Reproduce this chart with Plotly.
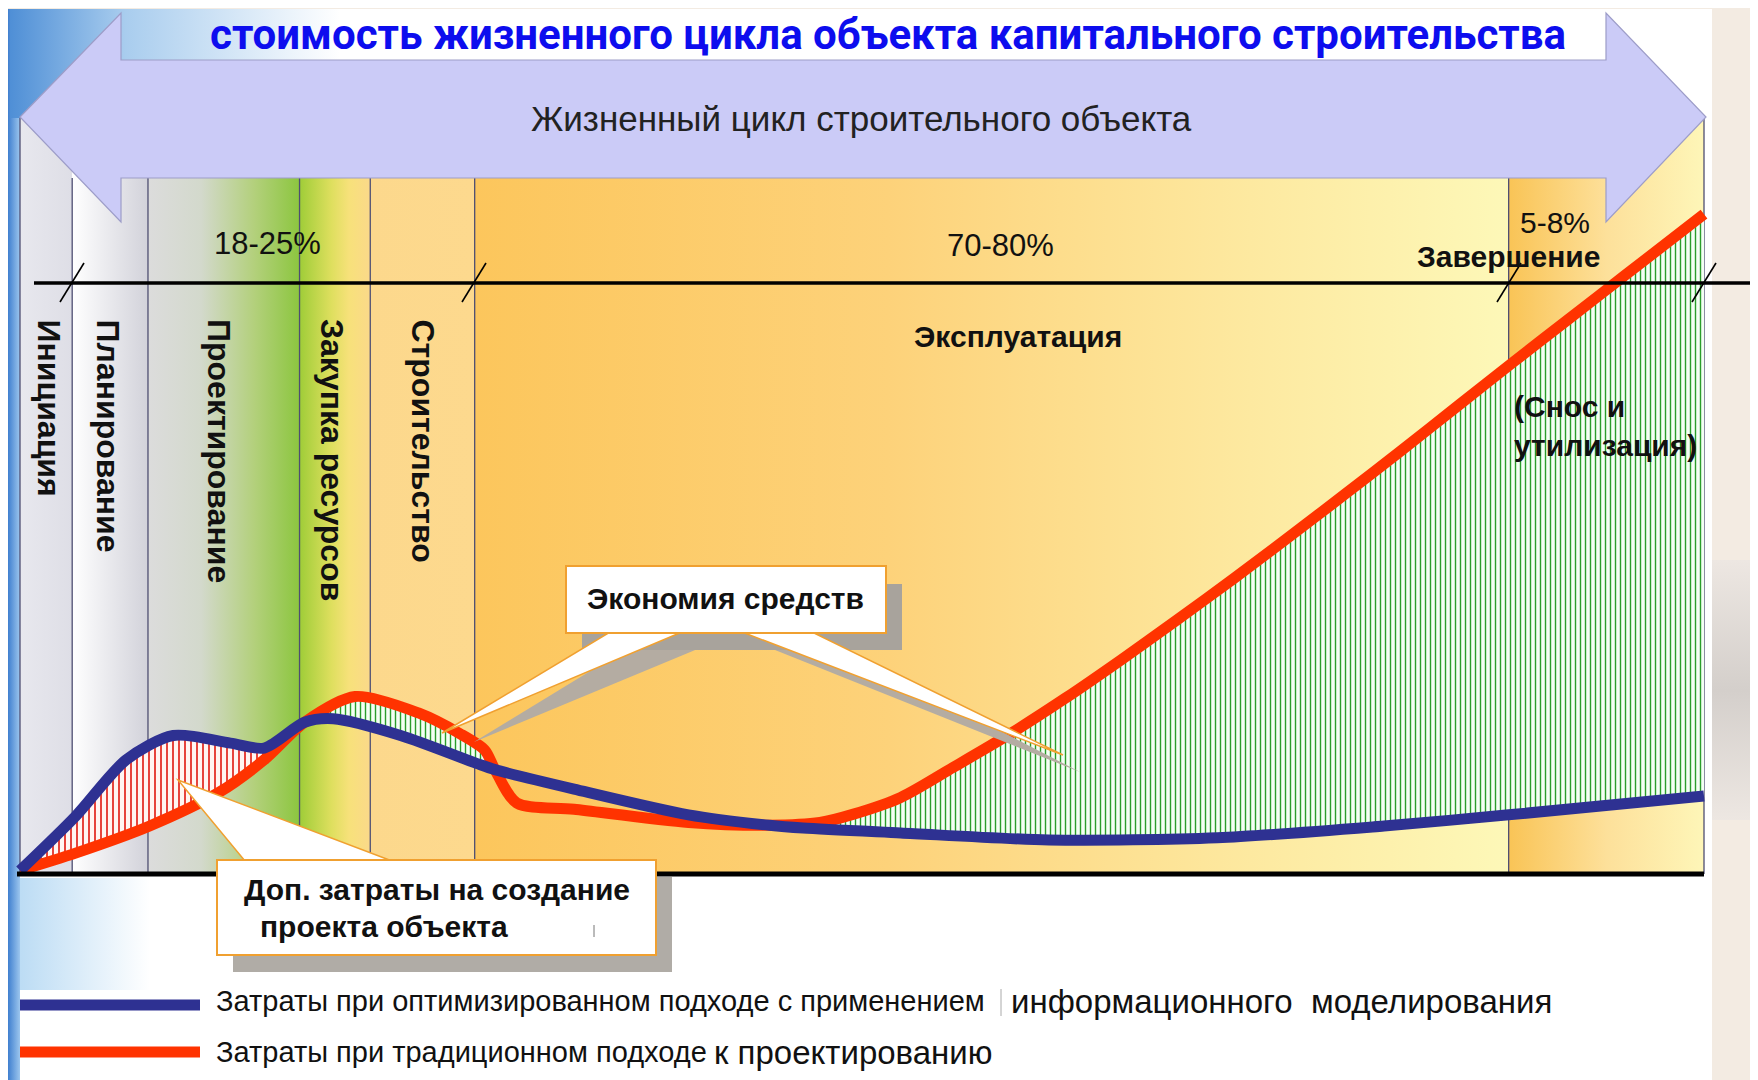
import plotly.graph_objects as go

# ---------------- data ----------------
title_text = "стоимость жизненного цикла объекта капитального строительства"
arrow_text = "Жизненный цикл строительного объекта"
phase_names = ["Инициация", "Планирование", "Проектирование", "Закупка ресурсов",
               "Строительство", "Эксплуатация", "Завершение"]
phase_bounds = [0, 3.1, 7.6, 16.6, 20.8, 27.0, 88.4, 100]
share_labels = ["18-25%", "70-80%", "5-8%"]

# traditional approach (red)
red_x = [0, 3.3, 7.7, 11.8, 14.5, 16.9, 19.9, 23.7, 26.1, 27.6, 28.2, 29.5, 32.9, 39.7,
         44.5, 47.5, 49.5, 52.3, 55.4, 58.7, 62.1, 65.4, 68.7, 72.1, 75.4, 78.7, 82.0,
         85.4, 88.7, 92.0, 95.3, 100]
red_y = [0.5, 3.0, 6.9, 11.7, 16.4, 21.8, 25.5, 23.1, 20.2, 17.8, 15.0, 10.2, 9.3, 7.4,
         7.0, 7.4, 8.6, 11.0, 15.3, 20.0, 25.3, 30.8, 36.5, 42.5, 48.5, 54.6, 60.8,
         67.3, 73.6, 79.8, 86.0, 94.8]
# optimized approach with BIM (blue)
blue_x = [0, 3.3, 6.3, 9.1, 12.5, 14.5, 16.9, 18.6, 22.6, 27.1, 28.2, 32.9, 39.7, 44.5,
          46.5, 52.3, 61.1, 71.1, 81.0, 88.4, 100]
blue_y = [0.5, 8.3, 16.4, 19.9, 18.8, 18.1, 21.8, 22.3, 19.9, 15.9, 15.0, 12.2, 8.5, 7.0,
          6.6, 5.9, 4.9, 5.2, 6.9, 8.5, 11.2]

extra_range = (0, 16.9)                       # blue above red
saving_ranges = [(16.9, 28.2), (44.5, 100)]   # red above blue

legend_blue = ["Затраты при оптимизированном подходе с применением", "информационного  моделирования"]
legend_red = ["Затраты при традиционном подходе", "к проектированию"]
callout_saving = "Экономия средств"
callout_extra = ["Доп. затраты на создание", "проекта объекта"]

# ---------------- layout helpers ----------------
W, H = 1758, 1080
OFF = 8                  # page body margin
FW, FH = W - OFF, H - OFF
X0, XS = 20.0, 16.84     # screen px of x=0, px per unit
Y0, YS = 874.0, 6.96     # screen px of y=0, px per unit


def ux(px):
    return (px - X0) / XS


def vy(py):
    return (Y0 - py) / YS


def fx(px):
    return (px - OFF) / FW


def fy(py):
    return 1 - (py - OFF) / FH


ARIAL = "Liberation Sans, Arial, sans-serif"
TITLEF = "Roboto, Liberation Sans, sans-serif"

RED = "#ff3300"
BLUE = "#2e3192"
ORANGE = "#f0a030"

fig = go.Figure()


def grad_rect(x0, x1, y0, y1, scale, orient="horizontal"):
    """x/y in data units"""
    g = dict(type=orient, colorscale=scale)
    if orient == "horizontal":
        g.update(start=x0, stop=x1)
    else:
        g.update(start=y0, stop=y1)
    fig.add_trace(go.Scatter(x=[x0, x1, x1, x0, x0], y=[y0, y0, y1, y1, y0],
                             mode="lines", line=dict(width=0), fill="toself",
                             fillgradient=g, hoverinfo="skip", showlegend=False))


# background pieces
grad_rect(ux(8), ux(20), vy(1080), vy(9), [[0, "#3f7fcf"], [1, "#9cc6ee"]])
grad_rect(ux(10), ux(340), vy(118), vy(9), [[0, "#4f8fd6"], [0.35, "#a9cdee"], [1, "#ffffff"]])
grad_rect(ux(20), ux(150), vy(990), vy(878), [[0, "#bcdcf4"], [1, "#ffffff"]])
grad_rect(ux(1712), ux(1758), vy(820), vy(560), [[0, "#ede7e2"], [0.5, "#d4cfcb"], [1, "#ede7e2"]], "vertical")

# phase bands
band_scales = [
    [[0, "#e8e8ee"], [1, "#dedee6"]],
    [[0, "#ffffff"], [1, "#d2d2da"]],
    [[0, "#dcdcdc"], [0.35, "#d3d9cc"], [0.7, "#b3d07c"], [1, "#8cc63f"]],
    [[0, "#9fcd38"], [0.45, "#dedf5e"], [0.7, "#f7e17a"], [1, "#fbd98a"]],
    [[0, "#fcd88c"], [1, "#fdd98e"]],
    [[0, "#fcc65c"], [0.4, "#fdd27a"], [0.75, "#fde9a0"], [1, "#fdf8b8"]],
    [[0, "#f9c456"], [0.5, "#fde09a"], [1, "#fef6b8"]],
]
band_top = vy(118)
for i in range(len(phase_names)):
    grad_rect(phase_bounds[i], phase_bounds[i + 1], 0, band_top, band_scales[i])

# phase boundary lines
for i, b in enumerate(phase_bounds):
    top = vy(118) if i in (0, len(phase_bounds) - 1) else vy(178)
    fig.add_trace(go.Scatter(x=[b, b], y=[0, top], mode="lines",
                             line=dict(color="#4e4e72", width=1.3),
                             hoverinfo="skip", showlegend=False))


def seg(xs, ys, a, b):
    p = [(x, y) for x, y in zip(xs, ys) if a - 1e-9 <= x <= b + 1e-9]
    return [q[0] for q in p], [q[1] for q in p]


def hatch(lower, upper, a, b, fg, bg, size):
    lx, ly = seg(*lower, a, b)
    hx, hy = seg(*upper, a, b)
    fig.add_trace(go.Scatter(x=lx, y=ly, mode="lines",
                             line=dict(width=0, shape="spline", smoothing=0.8),
                             hoverinfo="skip", showlegend=False))
    fig.add_trace(go.Scatter(x=hx, y=hy, mode="lines", fill="tonexty",
                             line=dict(width=0, shape="spline", smoothing=0.8),
                             fillcolor=bg,
                             fillpattern=dict(shape="|", fgcolor=fg, bgcolor=bg,
                                              size=size, solidity=0.28, fillmode="replace"),
                             hoverinfo="skip", showlegend=False))


hatch((red_x, red_y), (blue_x, blue_y), *extra_range, "#e2231a", "#fff6f2", 6)
for a, b in saving_ranges:
    hatch((blue_x, blue_y), (red_x, red_y), a, b, "#2a9d2a", "#f4fff4", 5)

# the two cost curves
fig.add_trace(go.Scatter(x=red_x, y=red_y, mode="lines", name=legend_red[0],
                         line=dict(color=RED, width=11, shape="spline", smoothing=0.8),
                         hoverinfo="skip", showlegend=False))
fig.add_trace(go.Scatter(x=blue_x, y=blue_y, mode="lines", name=legend_blue[0],
                         line=dict(color=BLUE, width=11, shape="spline", smoothing=0.8),
                         hoverinfo="skip", showlegend=False))

# ---------------- shapes ----------------
shapes = []


def path(points):
    return "M " + " L ".join(f"{fx(x):.5f},{fy(y):.5f}" for x, y in points) + " Z"


def pshape(points, fill, line=None, lw=0, layer="above"):
    shapes.append(dict(type="path", path=path(points), xref="paper", yref="paper",
                       fillcolor=fill, line=dict(color=line or fill, width=lw), layer=layer))


def rect(x0, y0, x1, y1, fill, line=None, lw=0, layer="above"):
    shapes.append(dict(type="rect", x0=fx(x0), x1=fx(x1), y0=fy(y1), y1=fy(y0),
                       xref="paper", yref="paper", fillcolor=fill,
                       line=dict(color=line or fill, width=lw), layer=layer))


def seg_line(x0, y0, x1, y1, color, w):
    shapes.append(dict(type="line", x0=fx(x0), x1=fx(x1), y0=fy(y0), y1=fy(y1),
                       xref="paper", yref="paper", line=dict(color=color, width=w), layer="above"))


# white page area (below traces)
rect(10, 9, 1712, 1080, "#ffffff", layer="below")
rect(340, 9, 1606, 60, "#ffffff", layer="above")

# double arrow
arrow_pts = [(20, 117), (121, 13), (121, 60), (1606, 60), (1606, 13), (1706, 117),
             (1606, 222), (1606, 178), (121, 178), (121, 222)]
pshape(arrow_pts, "#cbcbf7", "#9d9dc8", 1.2)

# timeline line and slashes
seg_line(34, 283, 1758, 283, "#000000", 3.5)
for sx in (72, 474, 1509, 1704):
    seg_line(sx - 12, 302, sx + 12, 263, "#000000", 1.6)

# x axis baseline
seg_line(17, 874, 1704, 874, "#000000", 5)

# callout "Экономия средств"
pshape([(628, 648), (700, 648), (474, 742)], "#b4aca2")
pshape([(770, 648), (840, 648), (1080, 772)], "#b4aca2")
rect(582, 584, 902, 650, "#a8a39c")
pshape([(610, 632), (682, 632), (442, 733)], "#ffffff", ORANGE, 1.5)
pshape([(742, 632), (812, 632), (1063, 755)], "#ffffff", ORANGE, 1.5)
rect(566, 566, 886, 633, "#ffffff", ORANGE, 2)

# callout "Доп. затраты ..."
rect(233, 877, 672, 972, "#b0aca6")
pshape([(245, 861), (392, 861), (178, 780)], "#ffffff", ORANGE, 1.5)
rect(217, 860, 656, 955, "#ffffff", ORANGE, 2)
seg_line(594, 925, 594, 937, "#777777", 1)

# legend swatches
seg_line(20, 1005, 200, 1005, BLUE, 11)
seg_line(20, 1052, 200, 1052, RED, 11)
seg_line(1001, 989, 1001, 1016, "#aaaaaa", 1)

# ---------------- texts ----------------
def txt(s, x, y, size, family=ARIAL, color="#111111", bold=False, xanchor="center",
        yanchor="middle", angle=0, align="center"):
    fig.add_annotation(text=s, x=fx(x), y=fy(y), xref="paper", yref="paper", showarrow=False,
                       font=dict(size=size, family=family, color=color,
                                 weight="bold" if bold else "normal"),
                       xanchor=xanchor, yanchor=yanchor, textangle=angle, align=align)


txt(title_text, 888, OFF, 42, TITLEF, "#0d0dee", True, yanchor="top")
txt(arrow_text, 861, 119, 35, ARIAL, "#222222")

txt(share_labels[0], 267, 243, 31, ARIAL)
txt(share_labels[1], 1001, 246, 31, ARIAL)
txt(share_labels[2], 1555, 222, 30, ARIAL)
txt(phase_names[6], 1508, 256, 30, ARIAL, bold=True)
txt(phase_names[5], 1018, 336, 30, ARIAL, bold=True)
txt("(Снос и<br>утилизация)", 1512, 426, 30, ARIAL, bold=True, xanchor="left", align="left")

for name, cx in zip(phase_names[:5], (49, 108, 219, 332, 423)):
    txt(name, cx, 317, 32, ARIAL, bold=True, yanchor="top", angle=90)

txt(callout_saving, 725, 598, 30, ARIAL, bold=True)
txt(callout_extra[0], 437, 889, 30, ARIAL, bold=True)
txt(callout_extra[1], 258, 926, 30, ARIAL, bold=True, xanchor="left")

txt(legend_blue[0], 214, 1001, 29, ARIAL, xanchor="left")
txt(legend_blue[1], 1009, 1001, 33, ARIAL, xanchor="left")
txt(legend_red[0], 214, 1052, 29, ARIAL, xanchor="left")
txt(legend_red[1], 712, 1052, 33, ARIAL, xanchor="left")

fig.update_layout(
    width=FW, height=FH, margin=dict(l=0, r=0, t=0, b=0),
    paper_bgcolor="#f3ebe2", plot_bgcolor="rgba(0,0,0,0)",
    shapes=shapes, showlegend=False,
    xaxis=dict(range=[ux(OFF), ux(W)], visible=False, domain=[0, 1], fixedrange=True),
    yaxis=dict(range=[vy(H), vy(OFF)], visible=False, domain=[0, 1], fixedrange=True),
)

fig.write_html("out.html")
